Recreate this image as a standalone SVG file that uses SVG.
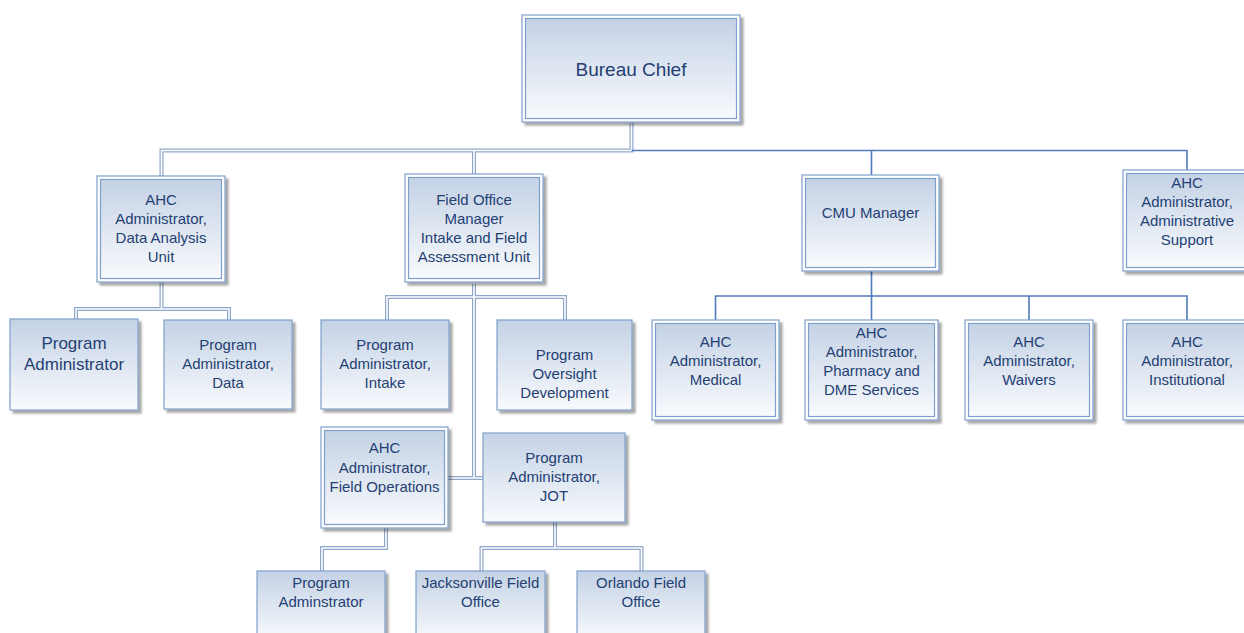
<svg xmlns="http://www.w3.org/2000/svg" width="1244" height="633" viewBox="0 0 1244 633">
<defs>
<linearGradient id="g" x1="0" y1="0" x2="0" y2="1">
<stop offset="0" stop-color="#c4d2e5"/>
<stop offset="1" stop-color="#f8fafd"/>
</linearGradient>
<filter id="sh" x="-10%" y="-10%" width="130%" height="130%">
<feDropShadow dx="3" dy="3" stdDeviation="1.2" flood-color="#000" flood-opacity="0.35"/>
</filter>
</defs>
<style>
.out{fill:#ffffff;stroke:#7f9fcb;stroke-width:1.2;filter:url(#sh)}
.in{fill:url(#g);stroke:#7f9fcb;stroke-width:1.2}
.box{fill:url(#g);stroke:#7f9fcb;stroke-width:1.2;filter:url(#sh)}
.dbl1{fill:none;stroke:#8ea7ca;stroke-width:4}
.dbl2{fill:none;stroke:#ffffff;stroke-width:1.6}
.sgl{fill:none;stroke:#4f7bbb;stroke-width:1.6}
text{font-family:"Liberation Sans",Arial,sans-serif;font-size:15px;fill:#243f73;text-anchor:middle}
</style>
<g id="connectors">
<path class="dbl1" d="M631.5,123V150.5H161.5V176M474,150.5V174M161.5,282V309H76V319M161.5,309H229V320M474,284V478M387,320V297H565V320M448,478H483M386,528V548H322V571M555,522V548H481.5V571M555,548H641.5V571"/>
<path class="dbl2" d="M631.5,123V150.5H161.5V176M474,150.5V174M161.5,282V309H76V319M161.5,309H229V320M474,284V478M387,320V297H565V320M448,478H483M386,528V548H322V571M555,522V548H481.5V571M555,548H641.5V571"/>
<path class="sgl" d="M631.5,150.5H1187V170M871.5,150.5V175M871.5,271V296H715.5V320M871.5,296V320M871.5,296H1187V320M1029,296V320"/>
</g>
<g id="bureau-chief">
<rect class="out" x="522" y="15" width="218" height="107"/>
<rect class="in" x="525.5" y="18.5" width="211" height="100"/>
<text x="631" y="76" style="font-size:19px">Bureau Chief</text>
</g>
<g id="ahc-data-analysis">
<rect class="out" x="97" y="176" width="128" height="106"/>
<rect class="in" x="100.5" y="179.5" width="121" height="99"/>
<text x="161" y="205">AHC</text><text x="161" y="224">Administrator,</text><text x="161" y="243">Data Analysis</text><text x="161" y="262">Unit</text>
</g>
<g id="field-office-manager">
<rect class="out" x="405" y="174" width="138" height="108"/>
<rect class="in" x="408.5" y="177.5" width="131" height="101"/>
<text x="474" y="205">Field Office</text><text x="474" y="224">Manager</text><text x="474" y="243">Intake and Field</text><text x="474" y="262">Assessment Unit</text>
</g>
<g id="cmu-manager">
<rect class="out" x="802" y="175" width="137" height="96"/>
<rect class="in" x="805.5" y="178.5" width="130" height="89"/>
<text x="870.5" y="218">CMU Manager</text>
</g>
<g id="ahc-admin-support">
<rect class="out" x="1123" y="170" width="130" height="101"/>
<rect class="in" x="1126.5" y="173.5" width="123" height="94"/>
<text x="1187" y="188">AHC</text><text x="1187" y="207">Administrator,</text><text x="1187" y="226">Administrative</text><text x="1187" y="245">Support</text>
</g>
<g id="program-administrator">
<rect class="box" x="10" y="319" width="128" height="91"/>
<text x="74" y="349" style="font-size:17px">Program</text><text x="74" y="370" style="font-size:17px">Administrator</text>
</g>
<g id="program-administrator-data">
<rect class="box" x="164" y="320" width="128" height="89"/>
<text x="228" y="350">Program</text><text x="228" y="369">Administrator,</text><text x="228" y="388">Data</text>
</g>
<g id="program-administrator-intake">
<rect class="box" x="321" y="320" width="128" height="89"/>
<text x="385" y="350">Program</text><text x="385" y="369">Administrator,</text><text x="385" y="388">Intake</text>
</g>
<g id="program-oversight-development">
<rect class="box" x="497" y="320" width="135" height="90"/>
<text x="564.5" y="360">Program</text><text x="564.5" y="379">Oversight</text><text x="564.5" y="398">Development</text>
</g>
<g id="ahc-medical">
<rect class="out" x="652" y="320" width="127" height="100"/>
<rect class="in" x="655.5" y="323.5" width="120" height="93"/>
<text x="715.5" y="347">AHC</text><text x="715.5" y="366">Administrator,</text><text x="715.5" y="385">Medical</text>
</g>
<g id="ahc-pharmacy">
<rect class="out" x="805" y="320" width="133" height="100"/>
<rect class="in" x="808.5" y="323.5" width="126" height="93"/>
<text x="871.5" y="338">AHC</text><text x="871.5" y="357">Administrator,</text><text x="871.5" y="376">Pharmacy and</text><text x="871.5" y="395">DME Services</text>
</g>
<g id="ahc-waivers">
<rect class="out" x="965" y="320" width="128" height="100"/>
<rect class="in" x="968.5" y="323.5" width="121" height="93"/>
<text x="1029" y="347">AHC</text><text x="1029" y="366">Administrator,</text><text x="1029" y="385">Waivers</text>
</g>
<g id="ahc-institutional">
<rect class="out" x="1123" y="320" width="130" height="100"/>
<rect class="in" x="1126.5" y="323.5" width="123" height="93"/>
<text x="1187" y="347">AHC</text><text x="1187" y="366">Administrator,</text><text x="1187" y="385">Institutional</text>
</g>
<g id="ahc-field-operations">
<rect class="out" x="321" y="427" width="127" height="101"/>
<rect class="in" x="324.5" y="430.5" width="120" height="94"/>
<text x="384.5" y="453">AHC</text><text x="384.5" y="473">Administrator,</text><text x="384.5" y="492">Field Operations</text>
</g>
<g id="program-administrator-jot">
<rect class="box" x="483" y="433" width="142" height="89"/>
<text x="554" y="463">Program</text><text x="554" y="482">Administrator,</text><text x="554" y="501">JOT</text>
</g>
<g id="program-adminstrator">
<rect class="box" x="257" y="571" width="128" height="70"/>
<text x="321" y="588">Program</text><text x="321" y="607">Adminstrator</text>
</g>
<g id="jacksonville-field-office">
<rect class="box" x="416" y="571" width="129" height="70"/>
<text x="480.5" y="588">Jacksonville Field</text><text x="480.5" y="607">Office</text>
</g>
<g id="orlando-field-office">
<rect class="box" x="577" y="571" width="128" height="70"/>
<text x="641" y="588">Orlando Field</text><text x="641" y="607">Office</text>
</g>
</svg>
